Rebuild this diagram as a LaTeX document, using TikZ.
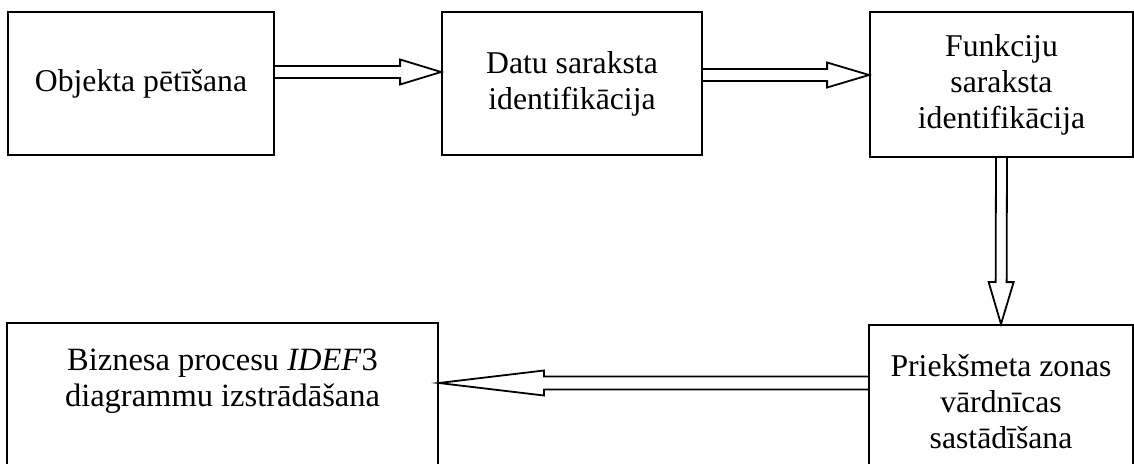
\documentclass[tikz,border=0pt]{standalone}
\usepackage{fontspec}
\setmainfont{Liberation Serif}
\usetikzlibrary{calc}
% hollow block arrow: from, to, head length, half shaft width
\newcommand\hollowarrow[4]{%
	\coordinate (hd) at ($(#2)!#3!(#1)$);
	\draw[arrowline] ($(#1)!#4!90:(#2)$) -- ($(hd)!#4!90:(#2)$) -- ($(hd)!12.5pt!90:(#2)$) -- (#2)
	-- ($(hd)!12.5pt!-90:(#2)$) -- ($(hd)!#4!-90:(#2)$) -- ($(#1)!#4!-90:(#2)$);}
\begin{document}
\begin{tikzpicture}[x=1pt,y=-1pt,line join=miter,
	box/.style={draw,line width=1.8pt,inner sep=0pt,align=center,font=\fontsize{31.7}{36}\selectfont},
	arrowline/.style={line width=1.8pt,line join=miter}]
	\useasboundingbox (0,0) rectangle (1134,463);
	\clip (0,0) rectangle (1134,463);
	% top row
	\node[box,minimum width=266,minimum height=143] (obj) at (141,83.5) {Objekta pētīšana};
	\node[box,minimum width=260,minimum height=143] (dat) at (572,83.5) {Datu saraksta\\identifikācija};
	\node[box,minimum width=263,minimum height=145] (fun) at (1001.5,84.5) {Funkciju\\saraksta\\identifikācija};
	% bottom row (cut by the page edge)
	\node[box,minimum width=264,minimum height=153] (vard) at (1001,401.5) {Priekšmeta zonas\\vārdnīcas\\sastādīšana};
	\node[box,minimum width=431,minimum height=155,
		label={[align=center,font=\fontsize{32.5}{36}\selectfont,yshift=19pt]center:Biznesa procesu \textit{IDEF}3\\diagrammu izstrādāšana}] (idef) at (222.5,400.5) {};
	% arrows
	\coordinate (a1s) at ([yshift=11.5pt]obj.east);
	\coordinate (a1e) at ([yshift=11.5pt]dat.west);
	\coordinate (a2s) at ([yshift=8.5pt]dat.east);
	\coordinate (a2e) at ([yshift=9.5pt]fun.west);
	\coordinate (a4s) at ([yshift=18.5pt]vard.west);
	\coordinate (a4e) at ([yshift=17.5pt]idef.east);
	\hollowarrow{a1s}{a1e}{41pt}{6pt}
	\hollowarrow{a2s}{a2e}{42pt}{6pt}
	\hollowarrow{fun.south}{vard.north}{42pt}{5.5pt}
	\hollowarrow{a4s}{a4e}{105pt}{6.5pt}
\end{tikzpicture}
\end{document}
